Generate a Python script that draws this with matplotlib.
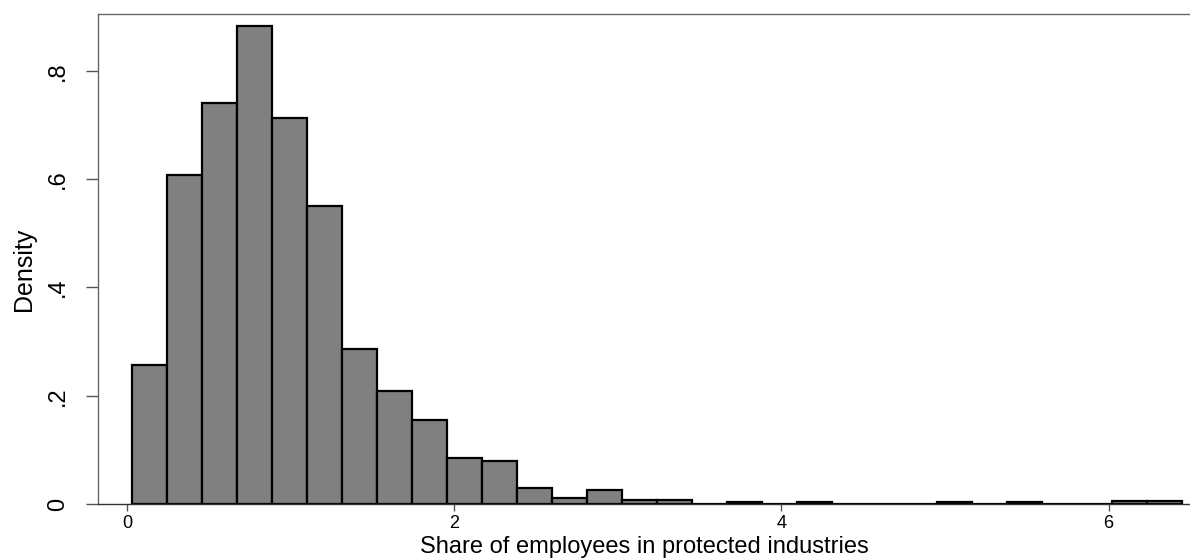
import matplotlib
matplotlib.use("Agg")
import matplotlib.pyplot as plt
import numpy as np

# Histogram (Stata-style density), bins
bin_start = 0.0287
bin_width = 0.2139
densities = [0.257, 0.608, 0.741, 0.883, 0.712, 0.551, 0.286, 0.209, 0.156, 0.085,
             0.079, 0.029, 0.012, 0.026, 0.008, 0.008, 0.0, 0.004, 0.0, 0.004,
             0.0, 0.0, 0.0, 0.004, 0.0, 0.004, 0.0, 0.0, 0.006, 0.006]
x_ticks = [0, 2, 4, 6]
x_ticklabels = ["0", "2", "4", "6"]
y_ticks = [0, 0.2, 0.4, 0.6, 0.8]
y_ticklabels = ["0", ".2", ".4", ".6", ".8"]
x_label = "Share of employees in protected industries"
y_label = "Density"

edges = bin_start + bin_width * np.arange(len(densities) + 1)

W, H = 1190, 558
fig = plt.figure(figsize=(W / 100, H / 100), dpi=100)
ax_left, ax_right, ax_top, ax_bottom = 98, 1190, 14, 504
ax_h = ax_bottom - ax_top
ax = fig.add_axes([ax_left / W, 1 - ax_bottom / H, (ax_right - ax_left) / W, ax_h / H])

ax.bar(edges[:-1], densities, width=bin_width, align="edge",
       color="#808080", edgecolor="black", linewidth=1.6, zorder=2)

px_per_unit = 163.6
x0_px = 127
ax.set_xlim((ax_left - x0_px) / px_per_unit, (ax_right - x0_px) / px_per_unit)
ax.set_ylim(0, 0.905)

font = ["Liberation Sans", "DejaVu Sans"]
ax.set_xticks(x_ticks)
ax.set_xticklabels(x_ticklabels, fontsize=13, family=font)
ax.set_yticks(y_ticks)
ax.set_yticklabels(y_ticklabels, fontsize=17, family=font, rotation=90, va="center")
ax.tick_params(axis="x", length=5, width=1, color="#555555", pad=3)
ax.tick_params(axis="y", length=9, width=1, color="#555555", pad=12)

ax.set_xlabel(x_label, fontsize=17, family=font, va="bottom")
ax.xaxis.set_label_coords(0.5, -(H - ax_bottom) / ax_h)
ax.set_ylabel(y_label, fontsize=18, family=font, va="center")
ax.yaxis.set_label_coords(-(ax_left - 24) / (ax_right - ax_left), 0.5 - 10 / ax_h)

for s in ["left", "top"]:
    ax.spines[s].set_color("#666666")
    ax.spines[s].set_linewidth(1.0)
ax.spines["bottom"].set_color("#333333")
ax.spines["bottom"].set_linewidth(1.0)
ax.spines["right"].set_visible(False)

fig.savefig("out.png", dpi=100, facecolor="white")
